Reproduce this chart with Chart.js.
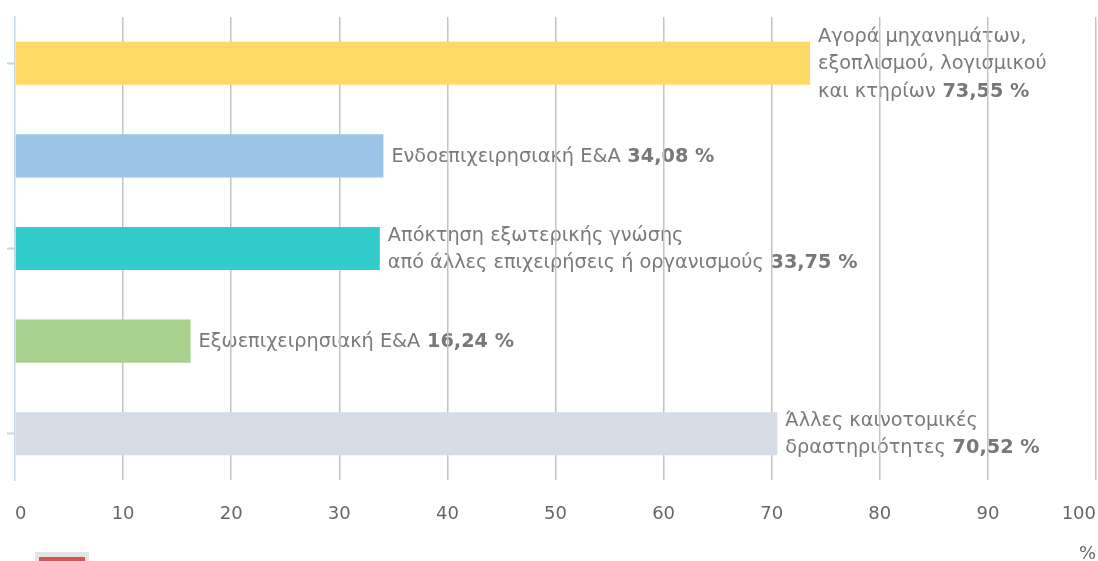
<!DOCTYPE html>
<html><head><meta charset="utf-8">
<script src="https://cdn.jsdelivr.net/npm/chart.js@4"></script>
<style>html,body{margin:0;padding:0;background:#fff;}canvas{display:block;}</style>
</head><body>
<canvas id="c" width="1098" height="561"></canvas>
<script>
const categories = [
  ["Αγορά μηχανημάτων,", "εξοπλισμού, λογισμικού", "και κτηρίων"],
  ["Ενδοεπιχειρησιακή Ε&Α"],
  ["Απόκτηση εξωτερικής γνώσης", "από άλλες επιχειρήσεις ή οργανισμούς"],
  ["Εξωεπιχειρησιακή Ε&Α"],
  ["Άλλες καινοτομικές", "δραστηριότητες"]
];
const values = [73.55, 34.08, 33.75, 16.24, 70.52];
const barColors = ["#ffd966", "#9dc3e6", "#33cccc", "#a9d18e", "#d6dce5"];
const xTicks = [0, 10, 20, 30, 40, 50, 60, 70, 80, 90, 100];
const axisTitle = "%";

const FONT = '"DejaVu Sans", sans-serif';
const LABEL_SIZE = 19.3;

const labelPlugin = {
  id: 'barLabels',
  beforeDraw(chart) {
    const ctx = chart.ctx;
    const meta = chart.getDatasetMeta(0);
    const lh = 27.5;
    ctx.save();
    ctx.textBaseline = 'middle';
    ctx.textAlign = 'left';
    meta.data.forEach((bar, i) => {
      const lines = categories[i];
      const n = lines.length;
      const x0 = bar.x + 8;
      const valText = ' ' + values[i].toFixed(2).replace('.', ',') + ' %';
      lines.forEach((line, j) => {
        const y = bar.y + 1 + (j - (n - 1) / 2) * lh;
        ctx.font = LABEL_SIZE + 'px ' + FONT;
        ctx.fillStyle = '#7a7a7a';
        ctx.fillText(line, x0, y);
        if (j === n - 1) {
          const w = ctx.measureText(line).width;
          ctx.font = 'bold ' + LABEL_SIZE + 'px ' + FONT;
          ctx.fillStyle = '#787878';
          ctx.fillText(valText, x0 + w, y);
        }
      });
    });
    ctx.restore();
  },
  afterDraw(chart) {
    const ctx = chart.ctx;
    ctx.save();
    ctx.fillStyle = '#e4e4e4';
    ctx.fillRect(35, 552, 54, 9);
    ctx.fillStyle = '#d9534f';
    ctx.fillRect(39, 557, 46, 4);
    ctx.restore();
  }
};

new Chart(document.getElementById('c'), {
  type: 'bar',
  data: {
    labels: categories.map(c => c.join(' ')),
    datasets: [{
      data: values,
      backgroundColor: barColors,
      borderWidth: 0,
      categoryPercentage: 1,
      barPercentage: 0.465
    }]
  },
  options: {
    indexAxis: 'y',
    responsive: false,
    animation: false,
    devicePixelRatio: 1,
    layout: { padding: { top: 17, right: 2, left: 0, bottom: 0 } },
    plugins: { legend: { display: false }, tooltip: { enabled: false } },
    scales: {
      x: {
        type: 'linear',
        min: 0, max: 100,
        afterBuildTicks(scale) { scale.ticks = xTicks.map(v => ({ value: v })); },
        afterFit(scale) { scale.height = 81; scale.paddingLeft = 0; scale.paddingRight = 0; },
        border: { display: false },
        grid: {
          color: c => c.index === 0 ? 'rgba(0,0,0,0)' : '#c4c4c4',
          lineWidth: 1.5,
          drawTicks: false
        },
        ticks: {
          align: 'inner',
          padding: 24,
          color: '#666',
          font: { family: FONT, size: 18 }
        },
        title: {
          display: true,
          text: axisTitle,
          align: 'end',
          color: '#666',
          font: { family: FONT, size: 18 },
          padding: { top: 22, bottom: -4 }
        }
      },
      y: {
        afterFit(scale) { scale.width = 15; },
        border: { display: true, color: '#c8d4ea', width: 1.5 },
        grid: {
          offset: false,
          drawOnChartArea: false,
          drawTicks: true,
          tickLength: 8,
          tickColor: c => c.index % 2 === 0 ? '#c8d4ea' : 'rgba(0,0,0,0)',
          tickWidth: 2
        },
        ticks: { display: false }
      }
    }
  },
  plugins: [labelPlugin]
});
</script>
</body></html>
